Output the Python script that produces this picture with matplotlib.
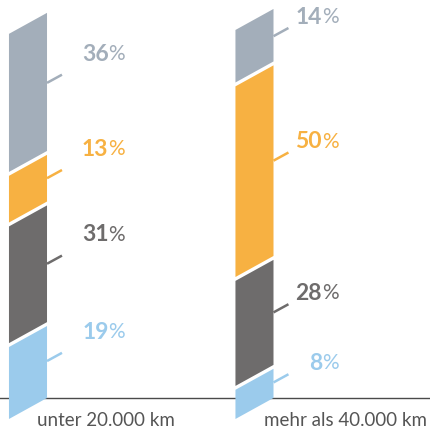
import numpy as np
import matplotlib
matplotlib.use("Agg")
import matplotlib.pyplot as plt
from matplotlib.patches import Polygon

plt.rcParams['font.family'] = ['Lato', 'DejaVu Sans']

# Daten (von unten nach oben)
kategorien = ["unter 20.000 km", "mehr als 40.000 km"]
werte_unter = [19, 31, 13, 36]
werte_mehr = [8, 28, 50, 14]
farben = ["#9BCBEC", "#6E6C6C", "#F7B142", "#A3AEBA"]

werte = [werte_unter, werte_mehr]

fig = plt.figure(figsize=(4.3, 4.3), dpi=100)
ax = fig.add_axes([0, 0, 1, 1])
ax.set_xlim(-0.1236, 1.775)
ax.set_ylim(-8.23, 102.3)
ax.axis('off')

breite = 0.168      # Balkenbreite
schraeg = 5.4       # Versatz der linken Kante nach unten (in %)
luecke = 1.0        # weisse Luecke zwischen Segmenten
strich_dx = 0.066
strich_dy = 2.1
text_dx = [0.429, 0.371]   # rechte Kante der Beschriftung ab Balkenmitte
text_dy = [5.3, 2.8]

# Grundlinie
ax.axhline(0, color="#4a4a4a", lw=1.0, zorder=1)

for i, vals in enumerate(werte):
    links = i - breite / 2
    rechts = i + breite / 2
    cum = np.concatenate([[0], np.cumsum(vals)])
    for k, v in enumerate(vals):
        y0 = cum[k] + (luecke / 2 if k > 0 else 0)
        y1 = cum[k + 1] - (luecke / 2 if k < len(vals) - 1 else 0)
        poly = Polygon([(links, y0 - schraeg), (rechts, y0), (rechts, y1), (links, y1 - schraeg)],
                       closed=True, facecolor=farben[k], edgecolor='none', zorder=2)
        ax.add_patch(poly)
        mid = (cum[k] + cum[k + 1]) / 2
        ax.plot([rechts, rechts + strich_dx], [mid, mid + strich_dy],
                color=farben[k], lw=1.8, solid_capstyle='butt', zorder=2)
        ty = mid + strich_dy + text_dy[i]
        pct = ax.text(i + text_dx[i], ty, "%", color=farben[k], fontsize=15,
                      ha='right', va='center')
        ax.annotate(str(v), xy=(0, 0.5), xycoords=pct, color=farben[k], fontsize=16.5,
                    fontweight='bold', ha='right', va='center')
    ax.text(rechts - 0.044, -5.7, kategorien[i], color="#555555", fontsize=13.5,
            fontweight='normal', ha='left', va='center')

fig.savefig("out.png", dpi=100)
